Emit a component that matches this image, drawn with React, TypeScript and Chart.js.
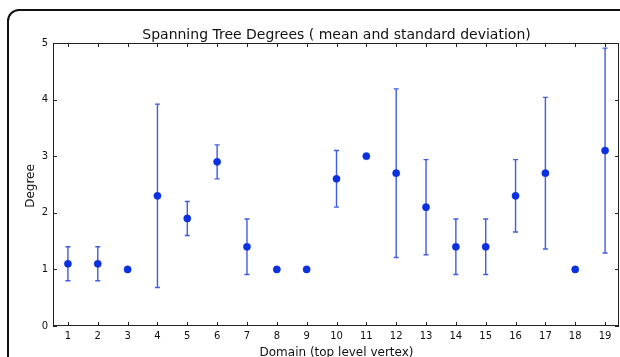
import React, { useEffect, useRef } from "react";
import { Chart, registerables } from "chart.js";

Chart.register(...registerables);

const domains = [1, 2, 3, 4, 5, 6, 7, 8, 9, 10, 11, 12, 13, 14, 15, 16, 17, 18, 19];
const means = [1.1, 1.1, 1.0, 2.3, 1.9, 2.9, 1.4, 1.0, 1.0, 2.6, 3.0, 2.7, 2.1, 1.4, 1.4, 2.3, 2.7, 1.0, 3.1];
const stds = [0.3, 0.3, 0, 1.62, 0.3, 0.3, 0.49, 0, 0, 0.5, 0, 1.49, 0.84, 0.49, 0.49, 0.64, 1.34, 0, 1.81];
const yTicks = [0, 1, 2, 3, 4, 5];
const titleText = "Spanning Tree Degrees ( mean and standard deviation)";
const xTitle = "Domain (top level vertex)";
const yTitle = "Degree";

const FONT = "'DejaVu Sans', sans-serif";

const errorBarPlugin = {
  id: "errorBars",
  beforeDatasetsDraw(chart: any) {
    const { ctx, scales } = chart;
    const xs = scales.x;
    const ys = scales.y;
    ctx.save();
    ctx.strokeStyle = "#3f5ce6";
    ctx.lineWidth = 1.4;
    domains.forEach((d, i) => {
      const s = stds[i];
      if (!s) return;
      const px = xs.getPixelForValue(d);
      const top = ys.getPixelForValue(means[i] + s);
      const bot = ys.getPixelForValue(means[i] - s);
      ctx.beginPath();
      ctx.moveTo(px, top);
      ctx.lineTo(px, bot);
      ctx.moveTo(px - 2.5, top);
      ctx.lineTo(px + 2.5, top);
      ctx.moveTo(px - 2.5, bot);
      ctx.lineTo(px + 2.5, bot);
      ctx.stroke();
    });
    ctx.restore();
  },
};

const framePlugin = {
  id: "frame",
  afterDraw(chart: any) {
    const { ctx, chartArea, scales } = chart;
    const { left, right, top, bottom } = chartArea;
    ctx.save();
    ctx.strokeStyle = "#222";
    ctx.lineWidth = 1;
    ctx.strokeRect(left + 0.5, top + 0.5, right - left - 2, bottom - top - 1);
    ctx.beginPath();
    domains.forEach((d) => {
      const px = Math.round(scales.x.getPixelForValue(d)) + 0.5;
      ctx.moveTo(px, bottom);
      ctx.lineTo(px, bottom - 4);
      ctx.moveTo(px, top);
      ctx.lineTo(px, top + 4);
    });
    yTicks.forEach((v) => {
      const py = Math.round(scales.y.getPixelForValue(v)) + 0.5;
      ctx.moveTo(left, py);
      ctx.lineTo(left + 4, py);
      ctx.moveTo(right - 1, py);
      ctx.lineTo(right - 5, py);
    });
    ctx.stroke();

    ctx.fillStyle = "#111";
    ctx.textAlign = "center";
    ctx.textBaseline = "alphabetic";
    ctx.font = `14px ${FONT}`;
    ctx.fillText(titleText, 336.5, 38.5);
    ctx.font = `12px ${FONT}`;
    ctx.fillText(xTitle, 336.5, 355.5);
    ctx.translate(34, 186);
    ctx.rotate(-Math.PI / 2);
    ctx.fillText(yTitle, 0, 0);
    ctx.restore();
  },
};

export default function App() {
  const ref = useRef<HTMLCanvasElement | null>(null);
  useEffect(() => {
    if (!ref.current) return;
    const chart = new Chart(ref.current, {
      type: "scatter",
      data: {
        datasets: [
          {
            data: domains.map((d, i) => ({ x: d, y: means[i] })),
            backgroundColor: "#0a30e0",
            borderColor: "#0a30e0",
            pointRadius: 3.6,
            pointBorderWidth: 0.5,
            pointHoverRadius: 3.6,
          },
        ],
      },
      plugins: [errorBarPlugin, framePlugin],
      options: {
        animation: false,
        responsive: false,
        events: [],
        layout: { autoPadding: false, padding: { top: 43, left: 0, right: 0, bottom: 0 } },
        plugins: { legend: { display: false }, tooltip: { enabled: false }, title: { display: false } },
        scales: {
          x: {
            type: "linear",
            min: 0.5,
            max: 19.5,
            grid: { display: false, drawTicks: false },
            border: { display: false },
            ticks: { color: "#111", font: { family: FONT, size: 10 }, padding: 4, autoSkip: false, maxRotation: 0 },
            afterBuildTicks: (scale: any) => {
              scale.ticks = domains.map((v) => ({ value: v }));
            },
            afterFit: (scale: any) => {
              scale.height = 31;
              scale.paddingLeft = 0;
              scale.paddingRight = 0;
            },
          },
          y: {
            min: 0,
            max: 5,
            grid: { display: false, drawTicks: false },
            border: { display: false },
            ticks: { color: "#111", font: { family: FONT, size: 10 }, padding: 5, stepSize: 1 },
            afterBuildTicks: (scale: any) => {
              scale.ticks = yTicks.map((v) => ({ value: v }));
            },
            afterFit: (scale: any) => {
              scale.width = 53;
              scale.paddingTop = 0;
              scale.paddingBottom = 0;
            },
          },
        },
      },
    });
    return () => chart.destroy();
  }, []);

  return (
    <div style={{ position: "fixed", left: 0, top: 0, width: 620, height: 357, overflow: "hidden", background: "#fff" }}>
      <div
        style={{
          position: "absolute",
          left: 7,
          top: 9,
          right: -100,
          bottom: -100,
          border: "2px solid #111",
          borderRadius: 12,
        }}
      />
      <canvas ref={ref} width={620} height={357} style={{ position: "absolute", left: 0, top: 0 }} />
    </div>
  );
}
